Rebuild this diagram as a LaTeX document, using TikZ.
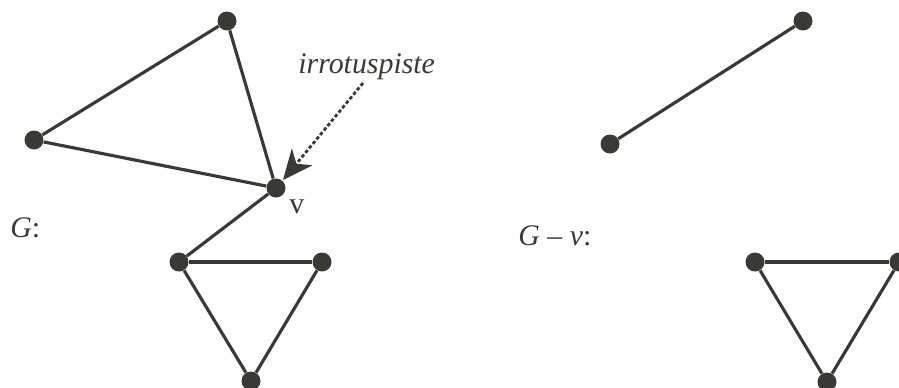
\documentclass[tikz,border=0pt]{standalone}
\usepackage{fontspec}
\setmainfont{Liberation Serif}
\usetikzlibrary{arrows.meta}

\definecolor{ink}{HTML}{3A3A34}

\tikzset{
  dot/.style={circle,fill=ink,inner sep=0pt,minimum size=0.38cm},
  edge/.style={line width=1.8pt,ink},
  lbl/.style={inner sep=0pt,anchor=base west,text=ink,font=\fontsize{17}{20}\selectfont}
}

\begin{document}
\begin{tikzpicture}[x=0.02cm,y=-0.02cm]
        \clip (0,0) rectangle (899,387);
        \useasboundingbox (0,0) rectangle (899,387);
        % G
        \node[dot] (t) at (227,21) {};
        \node[dot] (l) at (34,140) {};
        \node[dot] (v) at (276,188) {};
        \node[dot] (a) at (179,262) {};
        \node[dot] (b) at (322,262) {};
        \node[dot] (c) at (251,381) {};
        \foreach \p/\q in {t/l,t/v,l/v,v/a,a/b,a/c,b/c}
          \draw[edge] (\p) -- (\q);
        \node[lbl] (vname) at (289,213) {v};
        \node[lbl] (gname) at (10,237) {\textit{G}:};
        % G - v
        \node[dot] (t2) at (803,21) {};
        \node[dot] (l2) at (610,144) {};
        \node[dot] (a2) at (755,262) {};
        \node[dot] (b2) at (899,262) {};
        \node[dot] (c2) at (827,382) {};
        \foreach \p/\q in {t2/l2,a2/b2,a2/c2,b2/c2}
          \draw[edge] (\p) -- (\q);
        \node[lbl] (gvname) at (518,245) {\textit{G} – \textit{v}:};
        % cut vertex
        \node[lbl] (cut) at (298,73) {\textit{irrotuspiste}};
        \coordinate (from) at (363,83);
        \coordinate (tip) at (283,180);
        \draw[line width=1.6pt,ink,dash pattern=on 2pt off 1.3pt,
          -{Stealth[length=17pt,width=15pt,inset=5pt]}] (from) -- (tip);
      \end{tikzpicture}
\end{document}
